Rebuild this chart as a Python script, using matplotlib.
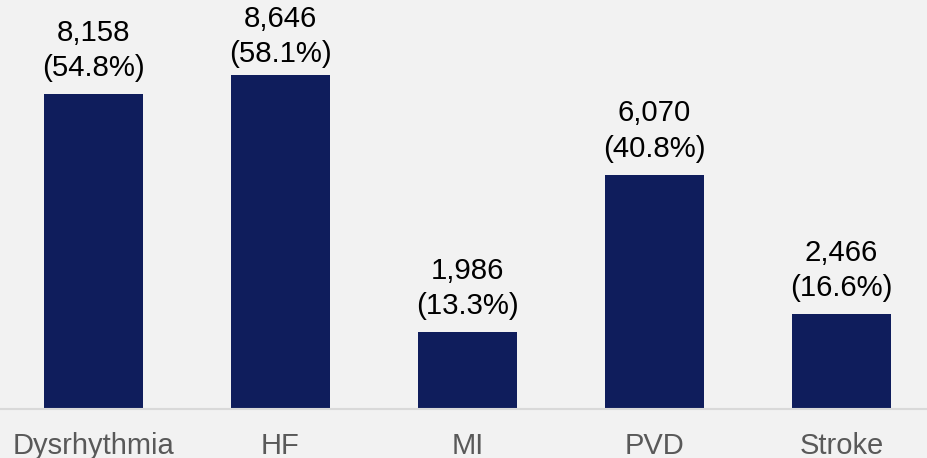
import matplotlib
matplotlib.use("Agg")
import matplotlib.pyplot as plt

categories = ["Dysrhythmia", "HF", "MI", "PVD", "Stroke"]
counts = [8158, 8646, 1986, 6070, 2466]
percents = [54.8, 58.1, 13.3, 40.8, 16.6]

plt.rcParams['font.family'] = ['Liberation Sans', 'DejaVu Sans']

fig = plt.figure(figsize=(9.28, 4.58), dpi=100, facecolor="#f2f2f2")
ax = fig.add_axes([0, 49/458, 1, 409/458])
ax.set_facecolor("#f2f2f2")

x = list(range(len(categories)))
bars = ax.bar(x, counts, width=0.53, color="#0f1d5c", zorder=2)
anns = []
for xi, c, p in zip(x, counts, percents):
    a = ax.annotate(f"{c:,}\n({p}%)", (xi, c), xytext=(0, 8.5), textcoords="offset points",
                    ha="center", va="bottom", fontsize=21.2, color="#000000", linespacing=1.33,
                    annotation_clip=False)
    anns.append(a)

ax.set_xlim(-0.5, 4.4626)
ax.set_ylim(0, 10588)
ax.set_xticks(x)
ax.set_xticklabels(categories, fontsize=21, color="#595959")
ax.tick_params(axis="x", length=0, pad=16.5)
ax.set_yticks([])
for s in ["top", "right", "left"]:
    ax.spines[s].set_visible(False)
ax.spines["bottom"].set_color("#d9d9d9")
ax.spines["bottom"].set_linewidth(1.5)

# keep labels inside the figure (push down like the original)
fig.canvas.draw()
r = fig.canvas.get_renderer()
H = fig.bbox.height
for a in anns:
    bb = a.get_window_extent(r)
    over = bb.y1 - (H - 5)
    if over > 0:
        ox, oy = a.xyann
        a.xyann = (ox, oy - over * 72 / fig.dpi)

fig.savefig("out.png", dpi=100, facecolor=fig.get_facecolor())
